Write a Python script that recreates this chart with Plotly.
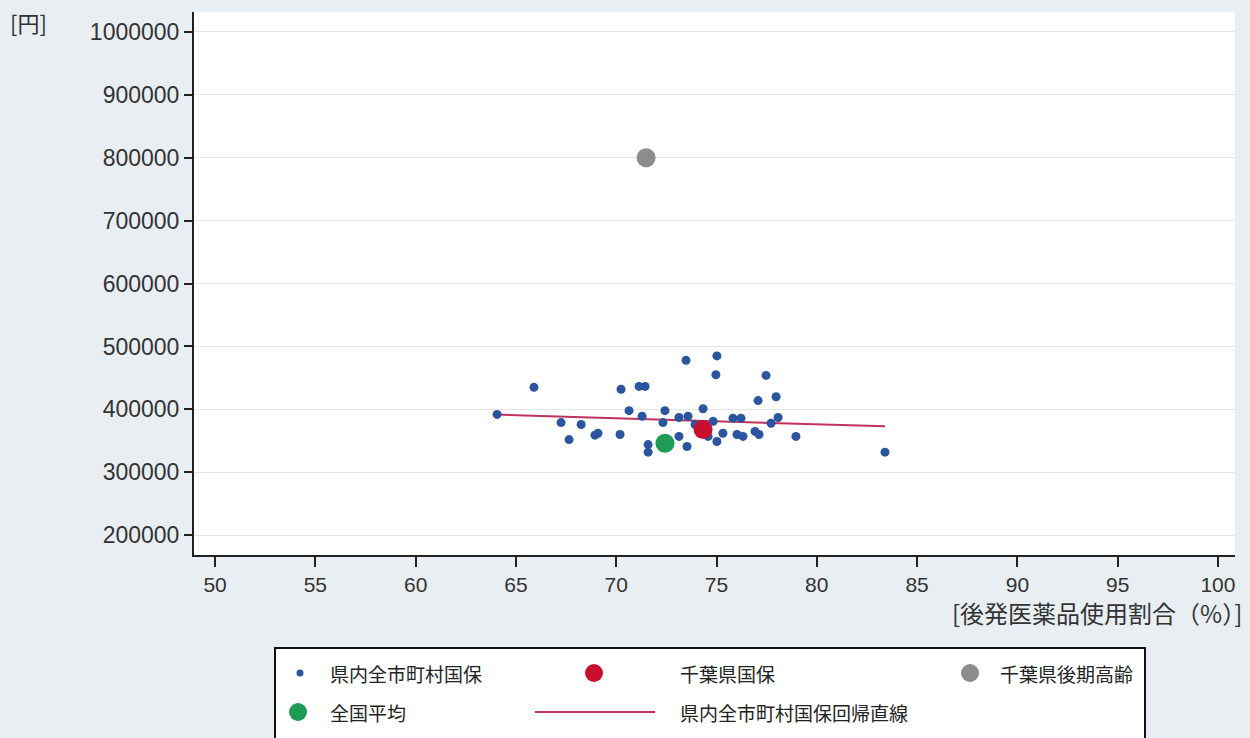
import plotly.graph_objects as go

# --- data ---
muni_x = [64.06, 65.90, 67.25, 67.65, 68.25, 68.94, 69.09, 70.24, 70.64, 71.14,
          71.44, 71.29, 70.19, 72.43, 72.33, 71.59, 71.59, 73.13, 73.53, 73.13,
          73.58, 73.48, 75.02, 74.97, 74.33, 74.83, 75.02, 75.32, 77.47, 77.07,
          77.97, 75.82, 76.22, 78.07, 77.72, 76.02, 76.32, 76.92, 77.12, 78.96,
          83.40, 74.58, 73.93]
muni_y = [392000, 435000, 379000, 352000, 376000, 359000, 362000, 432000, 398000, 436500,
          436500, 389000, 360000, 398000, 379000, 344000, 332000, 357000, 341000, 387000,
          389000, 478000, 485000, 455000, 401000, 381000, 349000, 362000, 454000, 414000,
          420000, 386000, 386000, 387000, 378000, 360000, 357000, 365000, 360000, 357000,
          332000, 357000, 376000]
chiba_kokuho = (74.33, 368000)
chiba_kouki = (71.49, 800000)
national_avg = (72.43, 346000)
reg_x = [64.06, 83.40]
reg_y = [391700, 373000]

x_ticks = [50, 55, 60, 65, 70, 75, 80, 85, 90, 95, 100]
y_ticks = [200000, 300000, 400000, 500000, 600000, 700000, 800000, 900000, 1000000]

labels = ["県内全市町村国保", "千葉県国保", "千葉県後期高齢", "全国平均", "県内全市町村国保回帰直線"]
x_title = "[後発医薬品使用割合（%）]"
y_title = "[円]"

BLUE = "#2b559f"
RED = "#c8102e"
GRAY = "#8c8c8c"
GREEN = "#1f9a57"
LINE = "#c2325c"
BG = "#e9eef3"

W, H = 1250, 738
L, R, T, B = 194, 15, 12, 183
PW, PH = W - L - R, H - T - B

def px(x):
    return (x - L) / PW

def py(y):
    return (H - B - y) / PH

fig = go.Figure()
fig.add_trace(go.Scatter(x=reg_x, y=reg_y, mode="lines",
                         line=dict(color=LINE, width=2), name=labels[4], showlegend=False))
fig.add_trace(go.Scatter(x=muni_x, y=muni_y, mode="markers",
                         marker=dict(color=BLUE, size=9), name=labels[0], showlegend=False))
fig.add_trace(go.Scatter(x=[national_avg[0]], y=[national_avg[1]], mode="markers",
                         marker=dict(color=GREEN, size=19), name=labels[3], showlegend=False))
fig.add_trace(go.Scatter(x=[chiba_kokuho[0]], y=[chiba_kokuho[1]], mode="markers",
                         marker=dict(color=RED, size=19), name=labels[1], showlegend=False))
fig.add_trace(go.Scatter(x=[chiba_kouki[0]], y=[chiba_kouki[1]], mode="markers",
                         marker=dict(color=GRAY, size=19), name=labels[2], showlegend=False))

shapes = []
annotations = []

# legend box (extends beyond bottom edge)
shapes.append(dict(type="rect", xref="paper", yref="paper",
                   x0=px(275), x1=px(1145), y0=py(760), y1=py(648),
                   line=dict(color="#111111", width=2), fillcolor="white", layer="above"))

def dot(cx, cy, r, color):
    shapes.append(dict(type="circle", xref="paper", yref="paper",
                       x0=px(cx - r), x1=px(cx + r), y0=py(cy + r), y1=py(cy - r),
                       fillcolor=color, line=dict(width=0), layer="above"))

def text(x, y, s):
    annotations.append(dict(xref="paper", yref="paper", x=px(x), y=py(y), text=s,
                            showarrow=False, xanchor="left", yanchor="middle",
                            font=dict(size=19, color="#222222",
                                      family="Noto Sans CJK JP")))

dot(300, 673, 3.5, BLUE)
text(328, 673, labels[0])
dot(594, 673, 9, RED)
text(678, 673, labels[1])
dot(970, 673, 9, GRAY)
text(998, 673, labels[2])
dot(298, 712, 9, GREEN)
text(328, 712, labels[3])
shapes.append(dict(type="line", xref="paper", yref="paper",
                   x0=px(535), x1=px(655), y0=py(712), y1=py(712),
                   line=dict(color=LINE, width=2), layer="above"))
text(678, 712, labels[4])

# axis titles
annotations.append(dict(xref="paper", yref="paper", x=px(8), y=py(22), text=y_title,
                        showarrow=False, xanchor="left", yanchor="middle",
                        font=dict(size=22, color="#333333", family="Noto Sans CJK JP")))
annotations.append(dict(xref="paper", yref="paper", x=px(1244), y=py(612), text=x_title,
                        showarrow=False, xanchor="right", yanchor="middle",
                        font=dict(size=24, color="#333333", family="Noto Sans CJK JP")))

fig.update_layout(
    width=W, height=H,
    margin=dict(l=L, r=R, t=T, b=B, autoexpand=False),
    paper_bgcolor=BG, plot_bgcolor="white",
    shapes=shapes, annotations=annotations,
    showlegend=False,
    font=dict(family="Liberation Sans", size=20, color="#333333"),
)
fig.update_xaxes(range=[48.95, 100.85], tickmode="array", tickvals=x_ticks,
                 showgrid=False, zeroline=False,
                 showline=True, linecolor="#222222", linewidth=2,
                 ticks="outside", ticklen=10, tickwidth=1.5, tickcolor="#222222",
                 tickfont=dict(size=21, color="#333333"))
fig.update_yaxes(range=[168500, 1031700], tickmode="array", tickvals=y_ticks,
                 ticktext=[str(v) for v in y_ticks],
                 showgrid=True, gridcolor="#e4e6e8", gridwidth=1, zeroline=False,
                 showline=True, linecolor="#222222", linewidth=2,
                 ticks="outside", ticklen=8, tickwidth=1.5, tickcolor="#222222",
                 tickfont=dict(size=23, color="#333333"))

fig.write_html("out.html", config={"displayModeBar": False},
               post_script="document.body.style.margin='0';document.body.style.overflow='hidden';")
